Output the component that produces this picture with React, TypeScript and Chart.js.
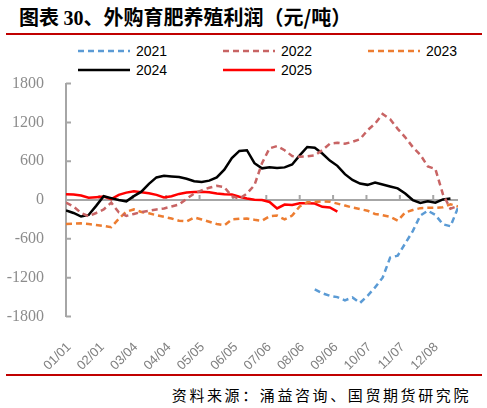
import React, { useEffect, useRef } from 'react';
import { Chart, registerables } from 'chart.js';

Chart.register(...registerables);

// x axis: day of year, labelled every 31 days
const tickLabels = ['01/01', '02/01', '03/04', '04/04', '05/05', '06/05', '07/06', '08/06', '09/06', '10/07', '11/07', '12/08'];
const weekDays = Array.from({ length: 53 }, (_, i) => i * 7);

const seriesNames = ['2021', '2022', '2023', '2024', '2025'];

const values2021 = [
    ...Array(33).fill(null),
    -1380, -1440, -1480, -1500, -1550, -1505, -1590, -1480, -1350, -1200,
    -890, -860, -670, -480, -240, -165, -230, -375, -405, -120,
];
const values2022 = [
    -40, -100, -200, -250, -200, -145, -40, -190, -245, -215,
    -185, -165, -145, -130, -100, -70, 20, 100, 150, 190,
    220, 200, 60, 20, 100, 230, 570, 800, 835, 770,
    680, 670, 675, 690, 770, 870, 885, 870, 900, 940,
    1080, 1180, 1330, 1250, 1100, 970, 820, 700, 520, 480,
    90, -135, -90,
];
const values2023 = [
    -370, -365, -360, -370, -385, -400, -420, -290, -180, -145,
    -185, -205, -235, -260, -285, -320, -330, -270, -300, -335,
    -370, -390, -300, -290, -285, -305, -320, -250, -240, -300,
    -240, -100, -35, -30, -20, -25, -55, -85, -115, -140,
    -165, -215, -235, -260, -320, -190, -155, -125, -120, -120,
    -110, -65, -100,
];
const values2024 = [
    -160, -200, -255, -230, -90, 60, 30, 0, -20, 60,
    130, 250, 350, 375, 365, 355, 330, 290, 280, 300,
    350, 470, 650, 760, 770, 570, 490, 505, 495, 505,
    550, 690, 820, 810, 720, 610, 529, 400, 310, 255,
    235, 270, 240, 210, 180, 100, 0, -45, -20, -40,
    10, 25, null,
];
const values2025 = [
    90, 85, 70, 35, 45, 55, 15, 80, 115, 135,
    120, 105, 80, 40, 60, 95, 115, 125, 130, 120,
    100, 90, 85, 50, 25, 5, 0, -30, -130, -70,
    -75, -50, -50, -55, -105, -115, -180,
    ...Array(16).fill(null),
];

const allValues = [values2021, values2022, values2023, values2024, values2025];
const lineColors = ['#5B9BD5', '#C86464', '#ED7D31', '#000000', '#FF0000'];
const lineDashes = [[6, 4], [6, 4], [6, 4], [], []];

const axisGray = '#A6A6A6';

// zero line plus the small tick marks that point into the plot
const axisMarks = {
    id: 'axisMarks',
    beforeDatasetsDraw(chart: any) {
        const { ctx, scales } = chart;
        const x = scales.x;
        const y = scales.y;
        const y0 = y.getPixelForValue(0);
        ctx.save();
        ctx.strokeStyle = axisGray;
        ctx.lineWidth = 2;
        ctx.beginPath();
        ctx.moveTo(x.left, y0);
        ctx.lineTo(x.right, y0);
        x.ticks.forEach((t: any) => {
            const px = x.getPixelForValue(t.value);
            ctx.moveTo(px, y0);
            ctx.lineTo(px, y0 - 5);
        });
        y.ticks.forEach((t: any) => {
            const py = y.getPixelForValue(t.value);
            ctx.moveTo(y.right, py);
            ctx.lineTo(y.right + 5, py);
        });
        ctx.stroke();
        ctx.restore();
    },
};

const LegendItem: React.FC<{ name: string; color: string; dash: number[]; left: number; top: number }> = ({ name, color, dash, left, top }) => (
    <div style={{ position: 'absolute', left, top, display: 'flex', alignItems: 'center', height: 18 }}>
        <svg width={52} height={6} style={{ display: 'block' }}>
            <line x1={0} y1={3} x2={52} y2={3} stroke={color} strokeWidth={2.5} strokeDasharray={dash.length ? dash.join(' ') : undefined} />
        </svg>
        <span style={{ marginLeft: 6, font: '14px "Liberation Sans", Arial, sans-serif', color: '#000' }}>{name}</span>
    </div>
);

const App: React.FC = () => {
    const chartRef = useRef<HTMLCanvasElement>(null);
    const chartInstanceRef = useRef<Chart | null>(null);

    useEffect(() => {
        if (!chartRef.current) return;
        const ctx = chartRef.current.getContext('2d');
        if (!ctx) return;
        if (chartInstanceRef.current) chartInstanceRef.current.destroy();

        chartInstanceRef.current = new Chart(ctx, {
            type: 'line',
            data: {
                datasets: seriesNames.map((name, i) => ({
                    label: name,
                    data: weekDays.map((d, j) => ({ x: d, y: allValues[i][j] })),
                    borderColor: lineColors[i],
                    backgroundColor: lineColors[i],
                    borderWidth: 2.5,
                    borderDash: lineDashes[i],
                    pointRadius: 0,
                    tension: 0,
                    spanGaps: false,
                })),
            },
            options: {
                responsive: true,
                maintainAspectRatio: false,
                animation: false,
                layout: { padding: { top: 15.5, right: 29, left: 0, bottom: 0 } },
                plugins: {
                    legend: { display: false },
                    tooltip: { enabled: false },
                },
                scales: {
                    x: {
                        type: 'linear',
                        min: 0,
                        max: 364,
                        afterBuildTicks: (scale: any) => {
                            scale.ticks = tickLabels.map((_, i) => ({ value: i * 31 }));
                        },
                        afterFit: (scale: any) => {
                            scale.height = 55.5;
                        },
                        grid: { display: false },
                        border: { display: false },
                        ticks: {
                            autoSkip: false,
                            minRotation: 45,
                            maxRotation: 45,
                            padding: 15,
                            labelOffset: 3,
                            color: '#808080',
                            font: { family: '"Liberation Sans", Arial, sans-serif', size: 13 },
                            callback: (value: any) => tickLabels[Math.round(Number(value) / 31)] ?? '',
                        },
                    },
                    y: {
                        min: -1800,
                        max: 1800,
                        afterFit: (scale: any) => {
                            scale.width = 66;
                        },
                        grid: { display: false },
                        border: { display: true, color: axisGray, width: 2 },
                        ticks: {
                            stepSize: 600,
                            padding: 14,
                            color: '#8C8C8C',
                            font: { family: '"Liberation Serif", "Times New Roman", serif', size: 16 },
                            callback: (value: any) => String(value),
                        },
                    },
                },
            },
            plugins: [axisMarks],
        });

        return () => {
            if (chartInstanceRef.current) {
                chartInstanceRef.current.destroy();
                chartInstanceRef.current = null;
            }
        };
    }, []);

    return (
        <div style={{ position: 'absolute', left: 0, top: 0, width: 487, height: 408, background: '#fff', overflow: 'hidden' }}>
            <div style={{ position: 'absolute', left: 19, top: 5, fontFamily: '"Noto Sans CJK SC", sans-serif', fontWeight: 700, fontSize: 20, lineHeight: '24px', color: '#000', whiteSpace: 'nowrap' }}>
                图表 <span style={{ fontFamily: '"Liberation Serif", serif' }}>30</span>、外购育肥养殖利润（元/吨）
            </div>
            <div style={{ position: 'absolute', left: 6, top: 33, width: 476, height: 2, background: '#C00000' }} />

            <LegendItem name={seriesNames[0]} color={lineColors[0]} dash={lineDashes[0]} left={78} top={42} />
            <LegendItem name={seriesNames[1]} color={lineColors[1]} dash={lineDashes[1]} left={223} top={42} />
            <LegendItem name={seriesNames[2]} color={lineColors[2]} dash={lineDashes[2]} left={368} top={42} />
            <LegendItem name={seriesNames[3]} color={lineColors[3]} dash={lineDashes[3]} left={78} top={61} />
            <LegendItem name={seriesNames[4]} color={lineColors[4]} dash={lineDashes[4]} left={223} top={61} />

            <div style={{ position: 'absolute', left: 0, top: 60, width: 487, height: 312 }}>
                <canvas ref={chartRef}></canvas>
            </div>

            <div style={{ position: 'absolute', left: 6, top: 374, width: 476, height: 2, background: '#C00000' }} />
            <div style={{ position: 'absolute', right: 16, top: 385, fontFamily: '"Noto Sans CJK SC", sans-serif', fontSize: 15, lineHeight: '20px', letterSpacing: 2.6, color: '#000', whiteSpace: 'nowrap' }}>
                资料来源：涌益咨询、国贸期货研究院
            </div>
        </div>
    );
};

export default App;
